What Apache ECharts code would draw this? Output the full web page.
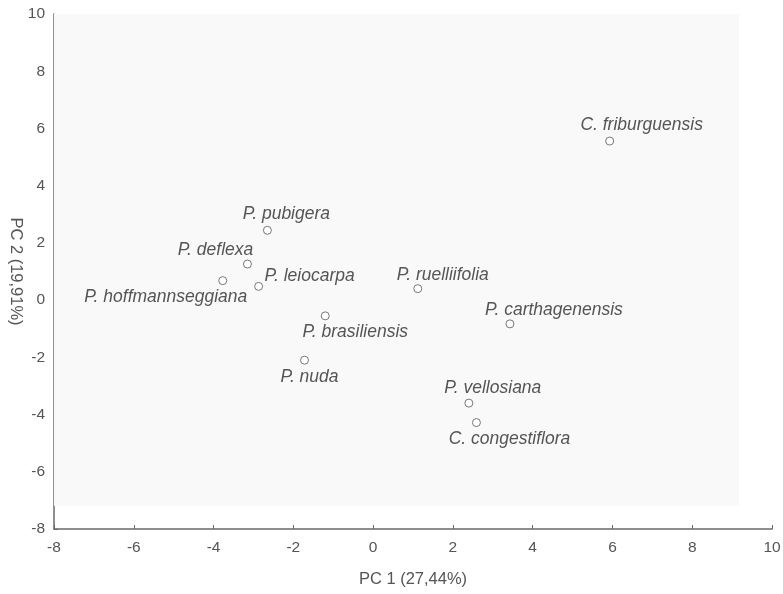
<!DOCTYPE html>
<html>
<head>
<meta charset="utf-8">
<script src="https://cdn.jsdelivr.net/npm/echarts@6/dist/echarts.min.js"></script>
<style>html,body{margin:0;padding:0;background:#fff}#c{width:783px;height:594px}</style>
</head>
<body>
<div id="c"></div>
<script>
const species = ["C. friburguensis","P. pubigera","P. deflexa","P. hoffmannseggiana","P. leiocarpa","P. ruelliifolia","P. brasiliensis","P. carthagenensis","P. nuda","P. vellosiana","C. congestiflora"];
const pc1 = [5.93,-2.65,-3.15,-3.77,-2.87,1.12,-1.20,3.43,-1.72,2.40,2.59];
const pc2 = [5.56,2.44,1.26,0.68,0.48,0.40,-0.55,-0.83,-2.10,-3.60,-4.28];
const xTicks = [-8,-6,-4,-2,0,2,4,6,8,10];
const yTicks = [-8,-6,-4,-2,0,2,4,6,8,10];

// label placement (style, not data)
const labelOffsets = {
  "C. friburguensis":[32,-16],"P. pubigera":[19,-16],"P. deflexa":[-32,-14],
  "P. hoffmannseggiana":[-57,16],"P. leiocarpa":[51,-10],"P. ruelliifolia":[25,-14],
  "P. brasiliensis":[30,16],"P. carthagenensis":[44,-14],"P. nuda":[5,17],
  "P. vellosiana":[24,-15],"C. congestiflora":[33,17]
};

const data = species.map((s,i)=>({
  name:s, value:[pc1[i],pc2[i]],
  label:{offset:labelOffsets[s]}
}));

const chart = echarts.init(document.getElementById('c'));
const axisCol = '#6a6a6a';
const font = 'Liberation Sans, Arial, sans-serif';
chart.setOption({
  animation:false,
  grid:{left:54,right:11,top:14,bottom:65,containLabel:false,outerBoundsMode:'none'},
  xAxis:{type:'value',min:-8,max:10,interval:2,
    name:'PC 1 (27,44%)',nameLocation:'middle',nameGap:42,nameMoveOverlap:false,
    nameTextStyle:{fontFamily:font,fontSize:16.5,color:'#555'},
    axisLine:{show:true,onZero:false,lineStyle:{color:axisCol,width:1.5}},
    axisTick:{show:true,inside:true,length:4,lineStyle:{color:axisCol}},
    axisLabel:{fontFamily:font,fontSize:15.5,color:'#555',margin:11,
      formatter:v=>xTicks.includes(v)?String(v):''},
    splitLine:{show:false}},
  yAxis:{type:'value',min:-8,max:10,interval:2,
    name:'PC 2 (19,91%)',nameLocation:'middle',nameGap:30,nameRotate:-90,nameMoveOverlap:false,
    nameTextStyle:{fontFamily:font,fontSize:16.5,color:'#555'},
    axisLine:{show:true,onZero:false,lineStyle:{color:axisCol,width:1.5}},
    axisTick:{show:true,inside:true,length:4,lineStyle:{color:axisCol}},
    axisLabel:{fontFamily:font,fontSize:15.5,color:'#555',margin:9,
      formatter:v=>yTicks.includes(v)?String(v):''},
    splitLine:{show:false}},
  series:[{
    type:'scatter',
    symbol:'circle',symbolSize:8,
    itemStyle:{color:'#fff',borderColor:'#777',borderWidth:1,opacity:1},
    label:{show:true,position:'inside',formatter:p=>p.name,
      fontFamily:font,fontStyle:'italic',fontSize:17.5,color:'#555',
      align:'center',verticalAlign:'middle'},
    data:data,
    markArea:{silent:true,itemStyle:{color:'#f9f9f9'},
      data:[[{coord:[-8,10]},{coord:[9.17,-7.19]}]]},
    z:5
  }]
});
</script>
</body>
</html>
